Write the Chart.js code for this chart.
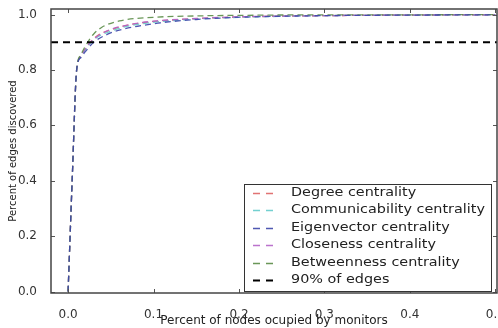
<!DOCTYPE html>
<html>
<head>
<meta charset="utf-8">
<script src="https://cdn.jsdelivr.net/npm/chart.js@4/dist/chart.umd.min.js"></script>
<style>
  html, body { margin: 0; padding: 0; background: #fff; }
  #wrap { width: 498px; height: 328px; }
</style>
</head>
<body>
<div id="wrap"><canvas id="chart" width="498" height="328"></canvas></div>
<script>
// Series data (x = share of nodes, y = share of edges)
const degreeX = [0.0, 0.005, 0.01, 0.015, 0.02, 0.026, 0.035, 0.05, 0.07, 0.1, 0.15, 0.2, 0.3, 0.4, 0.5];
const degreeY = [0.0, 0.42, 0.8, 0.85, 0.875, 0.9, 0.925, 0.945, 0.962, 0.975, 0.985, 0.991, 0.996, 0.998, 0.999];

const commX = [0.0, 0.005, 0.01, 0.015, 0.02, 0.027, 0.035, 0.05, 0.07, 0.1, 0.15, 0.2, 0.3, 0.4, 0.5];
const commY = [0.0, 0.42, 0.8, 0.85, 0.872, 0.9, 0.92, 0.94, 0.958, 0.972, 0.984, 0.99, 0.996, 0.998, 0.999];

const eigenX = [0.0, 0.005, 0.01, 0.015, 0.02, 0.03, 0.047, 0.065, 0.086, 0.11, 0.15, 0.19, 0.25, 0.3, 0.4, 0.5];
const eigenY = [0.0, 0.42, 0.8, 0.845, 0.865, 0.9, 0.93, 0.948, 0.96, 0.971, 0.982, 0.989, 0.994, 0.996, 0.998, 0.999];

const closeX = [0.0, 0.005, 0.01, 0.015, 0.02, 0.026, 0.045, 0.078, 0.1, 0.15, 0.2, 0.3, 0.4, 0.5];
const closeY = [0.0, 0.42, 0.8, 0.85, 0.875, 0.9, 0.94, 0.967, 0.976, 0.986, 0.992, 0.996, 0.998, 0.999];

const betwX = [0.0, 0.005, 0.01, 0.015, 0.02, 0.024, 0.03, 0.04, 0.06, 0.1, 0.15, 0.2, 0.3, 0.4, 0.5];
const betwY = [0.0, 0.42, 0.8, 0.855, 0.885, 0.905, 0.93, 0.955, 0.977, 0.99, 0.995, 0.997, 0.999, 0.999, 1.0];

const thresholdX = [-0.02, 0.502];
const thresholdY = [0.9, 0.9];

const xTicks = [0.0, 0.1, 0.2, 0.3, 0.4, 0.5];
const yTicks = [0.0, 0.2, 0.4, 0.6, 0.8, 1.0];

const seriesNames = ['Degree centrality', 'Communicability centrality', 'Eigenvector centrality',
  'Closeness centrality', 'Betweenness centrality', '90% of edges'];

function toPoints(xs, ys) {
  return xs.map((x, i) => ({ x: x, y: ys[i] }));
}

// lower order is drawn on top
function curve(label, xs, ys, color, order) {
  return {
    label: label,
    data: toPoints(xs, ys),
    borderColor: color,
    borderWidth: 1.3,
    borderDash: [6, 4],
    pointRadius: 0,
    cubicInterpolationMode: 'monotone',
    fill: false,
    order: order
  };
}

const datasets = [
  curve(seriesNames[0], degreeX, degreeY, 'rgba(220, 90, 90, 0.85)', 5),
  curve(seriesNames[1], commX, commY, 'rgba(90, 200, 200, 0.85)', 4),
  curve(seriesNames[2], eigenX, eigenY, 'rgba(60, 70, 170, 0.9)', 1),
  curve(seriesNames[3], closeX, closeY, 'rgba(180, 100, 200, 0.9)', 3),
  curve(seriesNames[4], betwX, betwY, 'rgba(90, 140, 70, 0.9)', 2),
  {
    label: seriesNames[5],
    data: toPoints(thresholdX, thresholdY),
    borderColor: '#000',
    borderWidth: 2,
    borderDash: [7, 5],
    pointRadius: 0,
    fill: false,
    order: 0
  }
];

const FONT = 'DejaVu Sans';

// Frame, inward ticks and the boxed legend, drawn like matplotlib does
const framePlugin = {
  id: 'frame',
  afterDatasetsDraw(chart) {
    const { ctx, chartArea: a, scales } = chart;
    ctx.save();
    ctx.strokeStyle = '#555';
    ctx.lineWidth = 1;
    xTicks.forEach(v => {
      const px = Math.round(scales.x.getPixelForValue(v)) + 0.5;
      ctx.beginPath();
      ctx.moveTo(px, a.bottom); ctx.lineTo(px, a.bottom - 4);
      ctx.moveTo(px, a.top); ctx.lineTo(px, a.top + 4);
      ctx.stroke();
    });
    yTicks.forEach(v => {
      const py = Math.round(scales.y.getPixelForValue(v)) + 0.5;
      ctx.beginPath();
      ctx.moveTo(a.left, py); ctx.lineTo(a.left + 4, py);
      ctx.moveTo(a.right, py); ctx.lineTo(a.right - 4, py);
      ctx.stroke();
    });
    ctx.lineWidth = 1.5;
    ctx.strokeStyle = '#444';
    ctx.strokeRect(a.left, a.top, a.right - a.left, a.bottom - a.top);

    // legend box (the source image is stretched sideways, so is the text)
    const lx = 244, ly = 184, lw = 247, lh = 107;
    ctx.fillStyle = '#fff';
    ctx.fillRect(lx, ly, lw, lh);
    ctx.lineWidth = 1;
    ctx.strokeStyle = '#333';
    ctx.strokeRect(lx + 0.5, ly + 0.5, lw, lh);
    ctx.font = '11.5px ' + FONT;
    ctx.textBaseline = 'middle';
    chart.data.datasets.forEach((ds, i) => {
      const y = 193 + i * 17.4;
      ctx.strokeStyle = ds.borderColor;
      ctx.lineWidth = ds.borderWidth;
      ctx.setLineDash([7, 6]);
      ctx.beginPath();
      ctx.moveTo(253, Math.round(y) + 0.5);
      ctx.lineTo(273, Math.round(y) + 0.5);
      ctx.stroke();
      ctx.setLineDash([]);
      ctx.fillStyle = '#222';
      ctx.save();
      ctx.translate(291, y);
      ctx.scale(1.25, 1);
      ctx.fillText(ds.label, 0, 0);
      ctx.restore();
    });
    ctx.restore();
  }
};

new Chart(document.getElementById('chart'), {
  type: 'line',
  data: { datasets: datasets },
  options: {
    responsive: false,
    animation: false,
    layout: { padding: { top: 9, right: 1, left: 0, bottom: 0 } },
    plugins: { legend: { display: false }, tooltip: { enabled: false } },
    scales: {
      x: {
        type: 'linear',
        min: -0.02,
        max: 0.502,
        afterBuildTicks: s => { s.ticks = xTicks.map(v => ({ value: v })); },
        afterFit: s => { s.height = 35; s.paddingLeft = 0; s.paddingRight = 0; },
        grid: { display: false },
        border: { display: false },
        ticks: {
          padding: 7,
          color: '#333',
          font: { family: FONT, size: 12 },
          callback: v => v.toFixed(1),
          maxRotation: 0
        },
        title: {
          display: true,
          text: 'Percent of nodes ocupied by monitors',
          color: '#222',
          font: { family: FONT, size: 12 },
          padding: { top: 0, bottom: 0 }
        }
      },
      y: {
        type: 'linear',
        min: -0.005,
        max: 1.02,
        afterBuildTicks: s => { s.ticks = yTicks.map(v => ({ value: v })); },
        afterFit: s => { s.width = 51; s.paddingTop = 0; s.paddingBottom = 0; },
        grid: { display: false },
        border: { display: false },
        ticks: {
          padding: 6,
          color: '#333',
          font: { family: FONT, size: 12 },
          callback: v => v.toFixed(1)
        },
        title: {
          display: true,
          text: 'Percent of edges discovered',
          color: '#222',
          font: { family: FONT, size: 10 },
          padding: { top: 7, bottom: 0 }
        }
      }
    }
  },
  plugins: [framePlugin]
});
</script>
</body>
</html>
